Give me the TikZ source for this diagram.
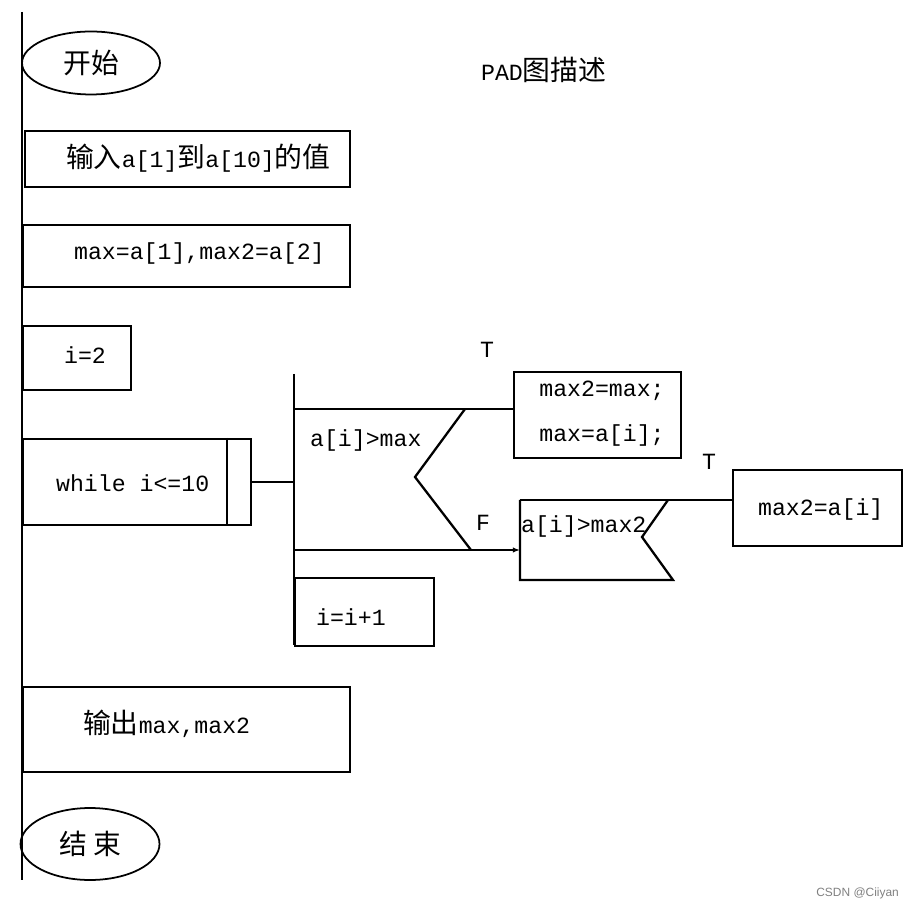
\documentclass[tikz,border=0pt]{standalone}
\usepackage{fontspec}
\setmainfont{Liberation Mono}
\setsansfont{Liberation Sans}
\newfontfamily\cjk[Scale=1.2]{Noto Sans CJK SC}
\usetikzlibrary{shapes.geometric,arrows.meta}

\begin{document}
\begin{tikzpicture}[x=0.02cm,y=-0.02cm,line width=1.3pt,
  box/.style={draw, rectangle, anchor=north west, inner sep=0pt},
  term/.style={draw, ellipse, line width=1pt, inner sep=0pt, font=\fontsize{13.2}{16}\selectfont},
  txt/.style={anchor=west, inner sep=0pt, font=\fontsize{13.2}{16}\selectfont}]
  \useasboundingbox (0,0) rectangle (912,911);

     % Ligne principale
  \coordinate (spineTop) at (22,12);
  \coordinate (spineBot) at (22,880);
  \draw (spineTop) -- (spineBot);

     % Debut et fin
  \node[term, minimum width=2.76cm, minimum height=1.26cm] (start) at (91,63) {\cjk 开始};
  \node[term, minimum width=2.78cm, minimum height=1.44cm] (stop) at (90,844) {\cjk 结\ 束};
  \node[txt] (title) at (480,70) {PAD{\cjk 图描述}};

     % Sequence
  \node[box, minimum width=6.5cm, minimum height=1.12cm] (input) at (24,130) {};
  \node[txt] (inputT) at (65,158) {{\cjk 输入}a[1]{\cjk 到}a[10]{\cjk 的值}};
  \node[box, minimum width=6.54cm, minimum height=1.24cm] (init) at (22,224) {};
  \node[txt] (initT) at (73,254) {max=a[1],max2=a[2]};
  \node[box, minimum width=2.16cm, minimum height=1.28cm] (seti) at (22,325) {};
  \node[txt] (setiT) at (63,355) {i=2};
  \node[box, minimum width=4.56cm, minimum height=1.72cm] (loopw) at (22,438) {};
  \draw ([xshift=-0.5cm]loopw.north east) -- ([xshift=-0.5cm]loopw.south east);
  \node[txt] (loopwT) at (55,483) {while i<=10};
  \node[box, minimum width=6.54cm, minimum height=1.7cm] (output) at (22,686) {};
  \node[txt] (outputT) at (82,724) {{\cjk 输出}max,max2};

     % Corps de boucle
  \coordinate (loopTop) at (294,374);
  \coordinate (loopBot) at (294,645);
  \draw (loopTop) -- (loopBot);
  \draw (loopw.east) -- (loopTop |- loopw.east);
  \node[box, minimum width=2.78cm, minimum height=1.36cm] (inc) at (294,577) {};
  \node[txt] (incT) at (315,617) {i=i+1};

     % Premier test
  \coordinate (c1T) at (294,409);
  \coordinate (c1B) at (294,550);
  \node[box, minimum width=3.34cm, minimum height=1.72cm] (swap) at (513,371) {};
  \node[txt, anchor=center, align=center, font=\fontsize{13.2}{25.5}\selectfont] (swapT) at (602,414) {max2=max;\\max=a[i];};
  \draw (c1T) -- (c1T -| swap.west);
  \draw (465,409) -- (415,477) -- (471,550);
  \node[txt] (c1L) at (309,441) {a[i]>max};
  \node[txt, anchor=center] (t1) at (487,350) {T};
  \node[txt, anchor=center] (f1) at (483,523) {F};

     % Second test
  \coordinate (c2NW) at (520,500);
  \coordinate (c2SW) at (520,580);
  \node[box, minimum width=3.38cm, minimum height=1.52cm] (maxtwo) at (732,469) {};
  \node[txt] (maxtwoT) at (757,510) {max2=a[i]};
  \draw[-{Latex[length=4pt,width=3pt]}] (c1B) -- (c2NW |- c1B);
  \draw (c2NW) -- (c2NW -| maxtwo.west);
  \draw (c2NW) -- (c2SW) -- (673,580) -- (642,537) -- (668,500);
  \node[txt] (c2L) at (520,527) {a[i]>max2};
  \node[txt, anchor=center] (t2) at (709,462) {T};

  \node[anchor=east, inner sep=0pt, text=gray, font=\sffamily\fontsize{6.8}{8}\selectfont] (mark) at (900,893) {CSDN @Ciiyan};
\end{tikzpicture}
\end{document}
